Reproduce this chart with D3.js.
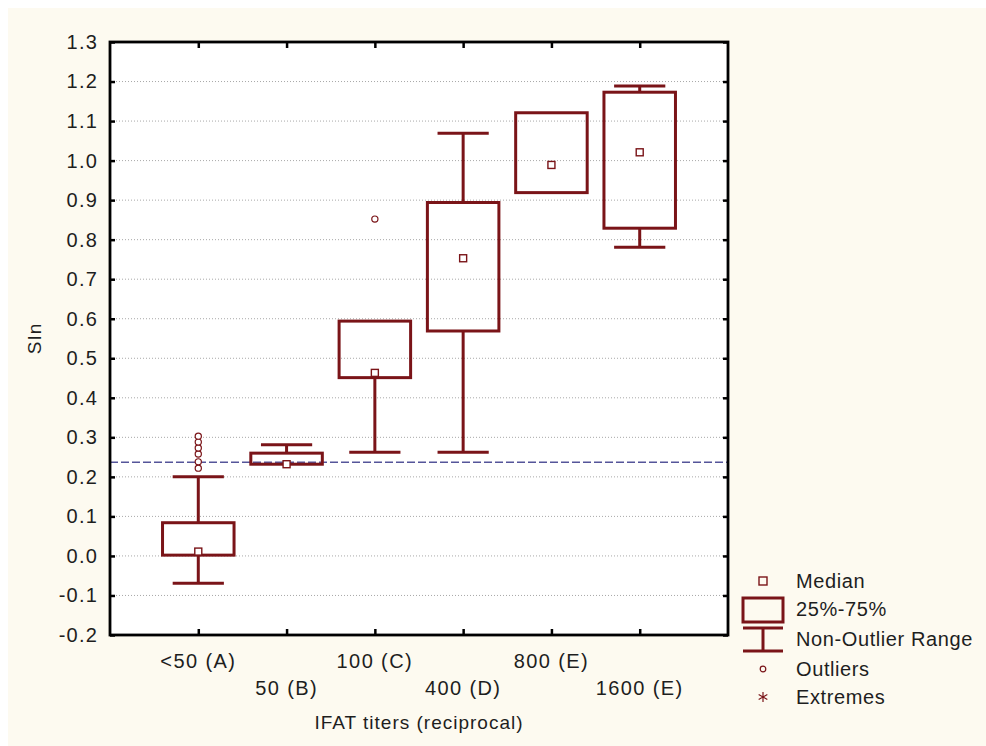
<!DOCTYPE html>
<html>
<head>
<meta charset="utf-8">
<script src="https://cdn.jsdelivr.net/npm/d3@7"></script>
<style>
  body { margin: 0; background: #fff; }
  text { font-family: "Liberation Sans", Arial, sans-serif; fill: #1e1e1e; }
</style>
</head>
<body>
<div id="chart"></div>
<script>
// box plot values
const categories = ['<50 (A)', '50 (B)', '100 (C)', '400 (D)', '800 (E)', '1600 (E)']
const medians = [0.011, 0.232, 0.463, 0.753, 0.989, 1.021]
const q1 = [0.002, 0.232, 0.451, 0.569, 0.919, 0.829]
const q3 = [0.084, 0.260, 0.594, 0.894, 1.121, 1.173]
const whiskerLow = [-0.069, 0.232, 0.262, 0.262, 0.919, 0.781]
const whiskerHigh = [0.200, 0.281, 0.594, 1.069, 1.121, 1.189]
const outlierCat = [0, 0, 0, 0, 0, 0, 2]
const outlierVal = [0.222, 0.238, 0.258, 0.273, 0.288, 0.303, 0.852]
const cutoff = 0.237
const yTicks = [-0.2, -0.1, 0.0, 0.1, 0.2, 0.3, 0.4, 0.5, 0.6, 0.7, 0.8, 0.9, 1.0, 1.1, 1.2, 1.3]
const legendItems = ['Median', '25%-75%', 'Non-Outlier Range', 'Outliers', 'Extremes']

const width = 986
const height = 746
const plot = { left: 110, right: 728, top: 42, bottom: 635 }
const boxColor = '#7a1418'

const svg = d3
  .select('#chart')
  .append('svg')
  .attr('width', width)
  .attr('height', height)

// cream panel behind everything
svg
  .append('rect')
  .attr('x', 8)
  .attr('y', 8)
  .attr('width', width - 8)
  .attr('height', height - 8)
  .attr('fill', '#fdfaf0')

svg
  .append('rect')
  .attr('x', plot.left)
  .attr('y', plot.top)
  .attr('width', plot.right - plot.left)
  .attr('height', plot.bottom - plot.top)
  .attr('fill', '#fff')

const x = d3.scalePoint().domain(categories).range([plot.left, plot.right]).padding(1)
const y = d3.scaleLinear().domain([-0.2, 1.3]).range([plot.bottom, plot.top])
const step = x.step()
const boxW = step * 0.81
const capW = step * 0.58

// dotted grid
svg
  .append('g')
  .selectAll('line')
  .data(yTicks.slice(1, -1))
  .join('line')
  .attr('x1', plot.left)
  .attr('x2', plot.right)
  .attr('y1', d => y(d))
  .attr('y2', d => y(d))
  .attr('stroke', '#a8a8a8')
  .attr('stroke-width', 1)
  .attr('stroke-dasharray', '1,2')

// cut-off line
svg
  .append('line')
  .attr('x1', plot.left)
  .attr('x2', plot.right)
  .attr('y1', y(cutoff))
  .attr('y2', y(cutoff))
  .attr('stroke', '#55559a')
  .attr('stroke-width', 1.3)
  .attr('stroke-dasharray', '8,3')

const boxes = svg
  .append('g')
  .selectAll('g')
  .data(categories)
  .join('g')
  .attr('transform', d => `translate(${x(d)},0)`)

boxes.each(function (d, i) {
  const g = d3.select(this)
  if (whiskerHigh[i] > q3[i]) {
    g.append('line')
      .attr('y1', y(q3[i])).attr('y2', y(whiskerHigh[i]))
      .attr('stroke', boxColor).attr('stroke-width', 3)
    g.append('line')
      .attr('x1', -capW / 2).attr('x2', capW / 2)
      .attr('y1', y(whiskerHigh[i])).attr('y2', y(whiskerHigh[i]))
      .attr('stroke', boxColor).attr('stroke-width', 3)
  }
  if (whiskerLow[i] < q1[i]) {
    g.append('line')
      .attr('y1', y(q1[i])).attr('y2', y(whiskerLow[i]))
      .attr('stroke', boxColor).attr('stroke-width', 3)
    g.append('line')
      .attr('x1', -capW / 2).attr('x2', capW / 2)
      .attr('y1', y(whiskerLow[i])).attr('y2', y(whiskerLow[i]))
      .attr('stroke', boxColor).attr('stroke-width', 3)
  }
  g.append('rect')
    .attr('x', -boxW / 2)
    .attr('y', y(q3[i]))
    .attr('width', boxW)
    .attr('height', y(q1[i]) - y(q3[i]))
    .attr('fill', 'none')
    .attr('stroke', boxColor)
    .attr('stroke-width', 3)
  g.append('rect')
    .attr('x', -3.5)
    .attr('y', y(medians[i]) - 3.5)
    .attr('width', 7)
    .attr('height', 7)
    .attr('fill', '#fff')
    .attr('stroke', boxColor)
    .attr('stroke-width', 1.4)
})

svg
  .append('g')
  .selectAll('circle')
  .data(outlierVal)
  .join('circle')
  .attr('cx', (d, i) => x(categories[outlierCat[i]]))
  .attr('cy', d => y(d))
  .attr('r', 3.1)
  .attr('fill', '#fff')
  .attr('stroke', boxColor)
  .attr('stroke-width', 1.2)

// frame with inward ticks
const axisStyle = g => {
  g.select('.domain').remove()
  g.selectAll('line').attr('stroke', '#000').attr('stroke-width', 2.5)
}
svg.append('g')
  .attr('transform', `translate(${plot.left},0)`)
  .call(d3.axisLeft(y).tickValues(yTicks).tickSize(-5).tickPadding(12).tickFormat(d => d.toFixed(1)))
  .call(axisStyle)
  .selectAll('text')
  .style('font-size', '20px')
  .style('letter-spacing', '1.2px')
  .attr('fill', '#1e1e1e')
svg.append('g')
  .attr('transform', `translate(${plot.right},0)`)
  .call(d3.axisRight(y).tickValues(yTicks).tickSize(-5).tickFormat(''))
  .call(axisStyle)
svg.append('g')
  .attr('transform', `translate(0,${plot.bottom})`)
  .call(d3.axisBottom(x).tickSize(-6).tickFormat(''))
  .call(axisStyle)
svg.append('g')
  .attr('transform', `translate(0,${plot.top})`)
  .call(d3.axisTop(x).tickSize(-6).tickFormat(''))
  .call(axisStyle)

svg
  .append('rect')
  .attr('x', plot.left)
  .attr('y', plot.top)
  .attr('width', plot.right - plot.left)
  .attr('height', plot.bottom - plot.top)
  .attr('fill', 'none')
  .attr('stroke', '#000')
  .attr('stroke-width', 2.8)

// staggered category labels
svg
  .append('g')
  .selectAll('text')
  .data(categories)
  .join('text')
  .attr('x', d => x(d))
  .attr('y', (d, i) => (i % 2 === 0 ? 668 : 695))
  .attr('text-anchor', 'middle')
  .style('font-size', '20px')
  .style('letter-spacing', '1.4px')
  .text(d => d)

svg
  .append('text')
  .attr('x', (plot.left + plot.right) / 2)
  .attr('y', 729)
  .attr('text-anchor', 'middle')
  .style('font-size', '19px')
  .style('letter-spacing', '1px')
  .text('IFAT titers (reciprocal)')

svg
  .append('text')
  .attr('transform', `translate(41,${(plot.top + plot.bottom) / 2}) rotate(-90)`)
  .attr('text-anchor', 'middle')
  .style('font-size', '19px')
  .style('letter-spacing', '1px')
  .text('SIn')

// legend
const lg = svg.append('g').attr('transform', 'translate(763,0)')
const legendY = [581, 609, 639, 669, 697]
lg.append('rect')
  .attr('x', -4).attr('y', legendY[0] - 4).attr('width', 8).attr('height', 8)
  .attr('fill', 'none').attr('stroke', boxColor).attr('stroke-width', 1.4)
lg.append('rect')
  .attr('x', -20).attr('y', 598).attr('width', 40).attr('height', 24)
  .attr('fill', 'none').attr('stroke', boxColor).attr('stroke-width', 3)
lg.append('line').attr('x1', -20).attr('x2', 20).attr('y1', 628).attr('y2', 628)
  .attr('stroke', boxColor).attr('stroke-width', 3)
lg.append('line').attr('x1', -20).attr('x2', 20).attr('y1', 651).attr('y2', 651)
  .attr('stroke', boxColor).attr('stroke-width', 3)
lg.append('line').attr('x1', 0).attr('x2', 0).attr('y1', 628).attr('y2', 651)
  .attr('stroke', boxColor).attr('stroke-width', 3)
lg.append('circle').attr('cx', 0).attr('cy', legendY[3]).attr('r', 2.8)
  .attr('fill', 'none').attr('stroke', boxColor).attr('stroke-width', 1.2)
lg.append('path')
  .attr('transform', `translate(0,${legendY[4]})`)
  .attr('d', d3.symbol(d3.symbolAsterisk, 70)())
  .attr('fill', 'none')
  .attr('stroke', boxColor)
  .attr('stroke-width', 1.2)
lg.selectAll('text.item')
  .data(legendItems)
  .join('text')
  .attr('class', 'item')
  .attr('x', 33)
  .attr('y', (d, i) => legendY[i] + 7)
  .style('font-size', '20px')
  .style('letter-spacing', '0.6px')
  .text(d => d)
</script>
</body>
</html>
